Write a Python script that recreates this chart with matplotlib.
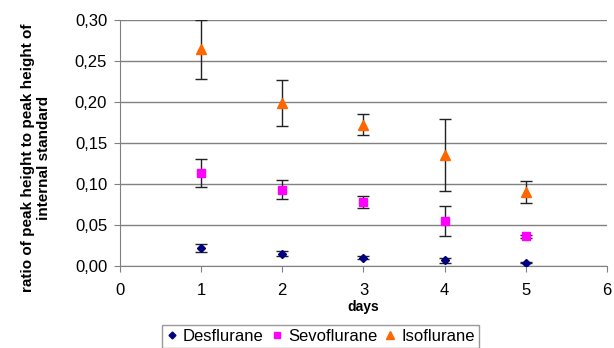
import matplotlib.pyplot as plt
from matplotlib.lines import Line2D
from matplotlib.ticker import FuncFormatter

plt.rcParams['font.family'] = ['Liberation Sans', 'DejaVu Sans']

days = [1, 2, 3, 4, 5]

desflurane = [0.022, 0.015, 0.010, 0.007, 0.004]
desflurane_err = [0.005, 0.003, 0.002, 0.003, 0.001]

sevoflurane = [0.113, 0.093, 0.078, 0.055, 0.036]
sevoflurane_err = [0.017, 0.012, 0.007, 0.018, 0.002]

isoflurane = [0.264, 0.199, 0.172, 0.135, 0.090]
isoflurane_err = [0.036, 0.028, 0.013, 0.044, 0.013]

fig = plt.figure(figsize=(6.14, 3.48), dpi=100)
ax = fig.add_axes([0.195, 0.236, 0.794, 0.707])

series = [
    ("Desflurane", desflurane, desflurane_err, "D", "#000080", 4.5),
    ("Sevoflurane", sevoflurane, sevoflurane_err, "s", "#ff00ff", 5.5),
    ("Isoflurane", isoflurane, isoflurane_err, "^", "#ff6600", 6.5),
]

handles = []
for nom, vals, err, m, c, ms in series:
    ax.errorbar(days, vals, yerr=err, fmt=m, color=c, markersize=ms,
                ecolor="#222222", elinewidth=1, capsize=4, capthick=1,
                zorder=3)
    handles.append(Line2D([], [], marker=m, color=c, linestyle="",
                          markersize=ms - 1, label=nom))

ax.set_xlim(0, 6)
ax.set_ylim(0, 0.30)
ax.set_xticks(range(0, 7))
ax.set_yticks([0, 0.05, 0.10, 0.15, 0.20, 0.25, 0.30])
ax.yaxis.set_major_formatter(FuncFormatter(lambda v, p: f"{v:.2f}".replace(".", ",")))
ax.grid(axis="y", color="#808080", linewidth=1)
ax.set_axisbelow(True)

for s in ["top", "right"]:
    ax.spines[s].set_visible(False)
for s in ["left", "bottom"]:
    ax.spines[s].set_color("#808080")
ax.tick_params(colors="#808080", labelcolor="black", labelsize=12, length=4)
ax.tick_params(axis="x", pad=8)
ax.tick_params(axis="y", pad=5)

ax.set_xlabel("days", fontsize=10, fontweight="bold", labelpad=2)
ax.set_ylabel("ratio of peak height to peak height of\ninternal standard",
              fontsize=11, fontweight="bold")
ax.yaxis.set_label_coords(-0.14, 0.44)

leg = fig.legend(handles=handles, loc="lower left",
                 bbox_to_anchor=(162 / 614, 0.0, (479 - 162) / 614, 0.08),
                 mode="expand", ncol=3,
                 fontsize=12, frameon=True, fancybox=False, edgecolor="#808080",
                 handlelength=0.7, handletextpad=0.3, columnspacing=0.8,
                 borderpad=0.25, borderaxespad=0)

plt.savefig("out.png", dpi=100)
